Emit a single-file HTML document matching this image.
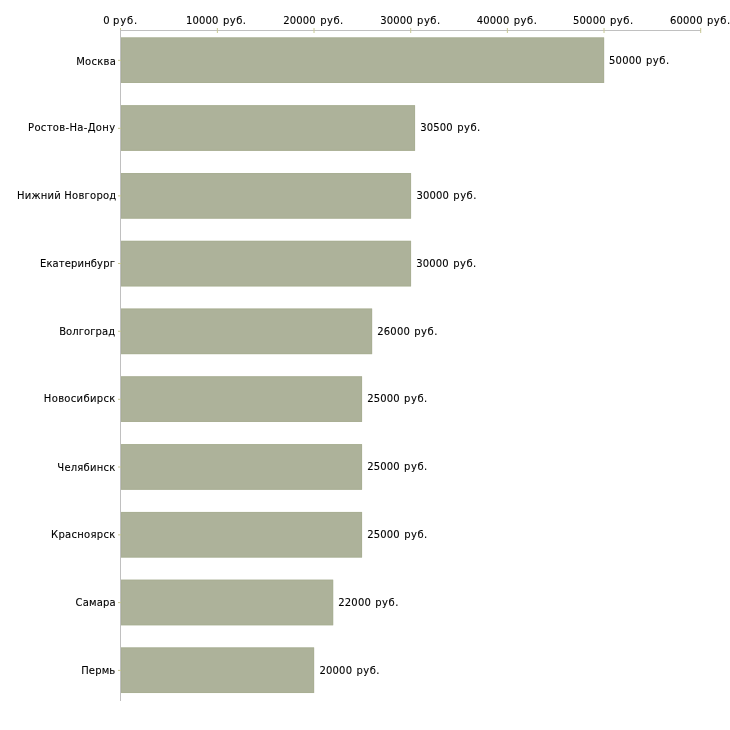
<!DOCTYPE html>
<html lang="ru"><head><meta charset="utf-8"><title>Зарплаты по городам</title>
<style>html,body{margin:0;padding:0;background:#fff}svg{display:block}text{font-family:"DejaVu Sans","Liberation Sans",sans-serif;font-size:10px;fill:#000;stroke:#000;stroke-width:0.1px}</style></head><body>
<svg width="730" height="730" viewBox="0 0 730 730">
<rect width="730" height="730" fill="#fff"/>
<rect x="120" y="30" width="1" height="671" fill="#c0c0c0"/>
<rect x="120" y="30" width="581" height="1" fill="#c0c0c0"/>
<rect x="120.00" y="28" width="1" height="2" fill="#c8c894"/>
<rect x="216.87" y="28" width="1" height="5" fill="#c8c894"/>
<rect x="313.53" y="28" width="1" height="5" fill="#c8c894"/>
<rect x="410.20" y="28" width="1" height="5" fill="#c8c894"/>
<rect x="506.87" y="28" width="1" height="5" fill="#c8c894"/>
<rect x="603.53" y="28" width="1" height="5" fill="#c8c894"/>
<rect x="700.20" y="28" width="1" height="5" fill="#c8c894"/>
<rect x="121" y="37.50" width="483.10" height="45.50" fill="#adb29a"/>
<rect x="121.5" y="38.00" width="482.10" height="44.50" fill="none" stroke="#a9af94" stroke-width="1"/>
<rect x="118" y="59.85" width="3" height="1" fill="#c8c894"/>
<rect x="121" y="105.28" width="294.05" height="45.50" fill="#adb29a"/>
<rect x="121.5" y="105.78" width="293.05" height="44.50" fill="none" stroke="#a9af94" stroke-width="1"/>
<rect x="118" y="127.85" width="3" height="1" fill="#c8c894"/>
<rect x="121" y="173.06" width="290.05" height="45.50" fill="#adb29a"/>
<rect x="121.5" y="173.56" width="289.05" height="44.50" fill="none" stroke="#a9af94" stroke-width="1"/>
<rect x="118" y="195.35" width="3" height="1" fill="#c8c894"/>
<rect x="121" y="240.84" width="290.05" height="45.50" fill="#adb29a"/>
<rect x="121.5" y="241.34" width="289.05" height="44.50" fill="none" stroke="#a9af94" stroke-width="1"/>
<rect x="118" y="263.00" width="3" height="1" fill="#c8c894"/>
<rect x="121" y="308.62" width="251.10" height="45.50" fill="#adb29a"/>
<rect x="121.5" y="309.12" width="250.10" height="44.50" fill="none" stroke="#a9af94" stroke-width="1"/>
<rect x="118" y="330.75" width="3" height="1" fill="#c8c894"/>
<rect x="121" y="376.40" width="241.05" height="45.50" fill="#adb29a"/>
<rect x="121.5" y="376.90" width="240.05" height="44.50" fill="none" stroke="#a9af94" stroke-width="1"/>
<rect x="118" y="398.80" width="3" height="1" fill="#c8c894"/>
<rect x="121" y="444.18" width="241.05" height="45.50" fill="#adb29a"/>
<rect x="121.5" y="444.68" width="240.05" height="44.50" fill="none" stroke="#a9af94" stroke-width="1"/>
<rect x="118" y="466.50" width="3" height="1" fill="#c8c894"/>
<rect x="121" y="511.96" width="241.05" height="45.50" fill="#adb29a"/>
<rect x="121.5" y="512.46" width="240.05" height="44.50" fill="none" stroke="#a9af94" stroke-width="1"/>
<rect x="118" y="534.35" width="3" height="1" fill="#c8c894"/>
<rect x="121" y="579.74" width="212.15" height="45.50" fill="#adb29a"/>
<rect x="121.5" y="580.24" width="211.15" height="44.50" fill="none" stroke="#a9af94" stroke-width="1"/>
<rect x="118" y="602.10" width="3" height="1" fill="#c8c894"/>
<rect x="121" y="647.52" width="193.10" height="45.50" fill="#adb29a"/>
<rect x="121.5" y="648.02" width="192.10" height="44.50" fill="none" stroke="#a9af94" stroke-width="1"/>
<rect x="118" y="669.90" width="3" height="1" fill="#c8c894"/>
<text x="76.15" y="65.00" style="letter-spacing:0.283px">Москва</text>
<text x="28.03" y="131.00" style="letter-spacing:0.334px">Ростов-На-Дону</text>
<text x="16.96" y="199.00" style="letter-spacing:0.236px">Нижний Новгород</text>
<text x="39.96" y="267.00" style="letter-spacing:0.128px">Екатеринбург</text>
<text x="59.15" y="335.00" style="letter-spacing:0.071px">Волгоград</text>
<text x="43.86" y="402.00" style="letter-spacing:0.318px">Новосибирск</text>
<text x="57.32" y="471.00" style="letter-spacing:0.214px">Челябинск</text>
<text x="51.03" y="538.00" style="letter-spacing:0.295px">Красноярск</text>
<text x="75.51" y="606.00" style="letter-spacing:0.178px">Самара</text>
<text x="81.15" y="674.00" style="letter-spacing:0.167px">Пермь</text>
<text x="609.08" y="64.00" style="word-spacing:0.550px"><tspan style="letter-spacing:0.17px">50000</tspan><tspan style="letter-spacing:0.51px"> руб.</tspan></text>
<text x="420.23" y="131.00" style="word-spacing:0.550px"><tspan style="letter-spacing:0.17px">30500</tspan><tspan style="letter-spacing:0.51px"> руб.</tspan></text>
<text x="416.40" y="199.00" style="word-spacing:0.550px"><tspan style="letter-spacing:0.17px">30000</tspan><tspan style="letter-spacing:0.51px"> руб.</tspan></text>
<text x="416.22" y="267.00" style="word-spacing:0.550px"><tspan style="letter-spacing:0.17px">30000</tspan><tspan style="letter-spacing:0.51px"> руб.</tspan></text>
<text x="377.30" y="335.00" style="word-spacing:0.550px"><tspan style="letter-spacing:0.17px">26000</tspan><tspan style="letter-spacing:0.51px"> руб.</tspan></text>
<text x="367.19" y="402.00" style="word-spacing:0.550px"><tspan style="letter-spacing:0.17px">25000</tspan><tspan style="letter-spacing:0.51px"> руб.</tspan></text>
<text x="367.19" y="470.00" style="word-spacing:0.550px"><tspan style="letter-spacing:0.17px">25000</tspan><tspan style="letter-spacing:0.51px"> руб.</tspan></text>
<text x="367.23" y="538.00" style="word-spacing:0.550px"><tspan style="letter-spacing:0.17px">25000</tspan><tspan style="letter-spacing:0.51px"> руб.</tspan></text>
<text x="338.30" y="606.00" style="word-spacing:0.550px"><tspan style="letter-spacing:0.17px">22000</tspan><tspan style="letter-spacing:0.51px"> руб.</tspan></text>
<text x="319.51" y="674.00" style="word-spacing:0.550px"><tspan style="letter-spacing:0.17px">20000</tspan><tspan style="letter-spacing:0.51px"> руб.</tspan></text>
<text x="103.19" y="24.00" style="word-spacing:-0.600px"><tspan style="letter-spacing:0.17px">0</tspan><tspan style="letter-spacing:0.80px"> руб.</tspan></text>
<text x="185.97" y="24.00" style="word-spacing:0.550px"><tspan style="letter-spacing:0.17px">10000</tspan><tspan style="letter-spacing:0.51px"> руб.</tspan></text>
<text x="283.22" y="24.00" style="word-spacing:0.550px"><tspan style="letter-spacing:0.17px">20000</tspan><tspan style="letter-spacing:0.51px"> руб.</tspan></text>
<text x="380.18" y="24.00" style="word-spacing:0.550px"><tspan style="letter-spacing:0.17px">30000</tspan><tspan style="letter-spacing:0.51px"> руб.</tspan></text>
<text x="476.77" y="24.00" style="word-spacing:0.550px"><tspan style="letter-spacing:0.17px">40000</tspan><tspan style="letter-spacing:0.51px"> руб.</tspan></text>
<text x="573.04" y="24.00" style="word-spacing:0.550px"><tspan style="letter-spacing:0.17px">50000</tspan><tspan style="letter-spacing:0.51px"> руб.</tspan></text>
<text x="670.03" y="24.00" style="word-spacing:0.550px"><tspan style="letter-spacing:0.17px">60000</tspan><tspan style="letter-spacing:0.51px"> руб.</tspan></text>
</svg></body></html>
